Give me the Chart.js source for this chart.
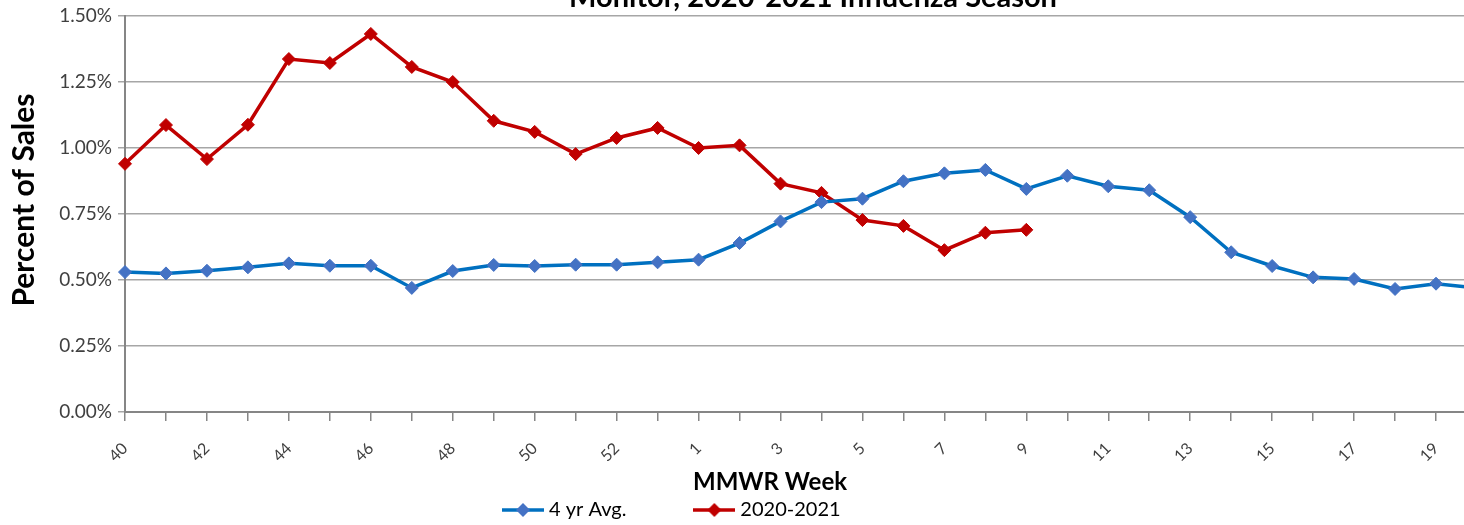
<!DOCTYPE html>
<html>
<head>
<meta charset="utf-8">
<script src="https://cdn.jsdelivr.net/npm/chart.js@4"></script>
<style>
  body { margin: 0; overflow: hidden; background: #fff; }
  #wrap { position: absolute; left: 0; top: -20px; width: 1500px; height: 545px; }
</style>
</head>
<body>
<div id="wrap"><canvas id="myChart"></canvas></div>
<script>
const weeks = ['40','41','42','43','44','45','46','47','48','49','50','51','52','53',
  '1','2','3','4','5','6','7','8','9','10','11','12','13','14','15','16','17','18','19','20'];

const avgValues = [0.53, 0.525, 0.535, 0.548, 0.563, 0.554, 0.554, 0.47, 0.534, 0.557,
  0.553, 0.558, 0.558, 0.567, 0.577, 0.64, 0.722, 0.795, 0.808, 0.874, 0.904, 0.917,
  0.845, 0.895, 0.855, 0.84, 0.738, 0.605, 0.553, 0.51, 0.504, 0.466, 0.486, 0.47];

const seasonValues = [0.94, 1.087, 0.958, 1.088, 1.337, 1.322, 1.432, 1.307, 1.25, 1.103,
  1.061, 0.977, 1.038, 1.076, 1.0, 1.01, 0.865, 0.83, 0.727, 0.705, 0.613, 0.679, 0.69];

const yTicks = [0, 0.25, 0.5, 0.75, 1.0, 1.25, 1.5];

Chart.defaults.font.family = 'Lato';

// little line + diamond picture for the legend
function legendMark(lineColor, dotColor) {
  let c = document.createElement('canvas');
  c.width = 42;
  c.height = 16;
  let g = c.getContext('2d');
  g.strokeStyle = lineColor;
  g.lineWidth = 3.5;
  g.beginPath();
  g.moveTo(0, 8);
  g.lineTo(42, 8);
  g.stroke();
  g.fillStyle = dotColor;
  g.beginPath();
  g.moveTo(14, 8);
  g.lineTo(21, 1);
  g.lineTo(28, 8);
  g.lineTo(21, 15);
  g.closePath();
  g.fill();
  return c;
}

const marks = [legendMark('#0070C0', '#4472C4'), legendMark('#C00000', '#C00000')];

const legendGap = 72;

// the picture is a crop, so titles / legend sit off the canvas centre
function shiftTitle(scale, dx, dy) {
  if (scale._shifted) return;
  const orig = scale.drawTitle;
  scale.drawTitle = function () {
    this.left += dx; this.right += dx; this.top += dy; this.bottom += dy;
    orig.call(this);
    this.left -= dx; this.right -= dx; this.top -= dy; this.bottom -= dy;
  };
  scale._shifted = true;
}

const shiftBoxes = {
  id: 'shiftBoxes',
  afterLayout(chart) {
    let t = chart.titleBlock;
    let dt = 813 - (t.left + t.right) / 2;
    t.left += dt;
    t.right += dt;

    let lg = chart.legend;
    let cur = (lg.left + legendGap + lg.right - lg.lineWidths[0]) / 2;
    let dx = 507 - cur;
    lg.left += dx;
    lg.right += dx;
    lg.top = 530 - legendGap - 10;

    shiftTitle(chart.scales.x, -31, 0);
    shiftTitle(chart.scales.y, 0, -14);
  }
};

const ctx = document.getElementById('myChart');

const myChart = new Chart(ctx, {
  type: 'line',
  data: {
    labels: weeks,
    datasets: [{
      label: '4 yr Avg.',
      data: avgValues,
      borderColor: '#0070C0',
      backgroundColor: '#4472C4',
      pointBackgroundColor: '#4472C4',
      pointBorderColor: '#4472C4',
      borderWidth: 3.5,
      pointStyle: 'rectRot',
      pointRadius: 6.5,
      pointBorderWidth: 1,
      tension: 0
    }, {
      label: '2020-2021',
      data: seasonValues,
      borderColor: '#C00000',
      backgroundColor: '#C00000',
      pointBackgroundColor: '#C00000',
      pointBorderColor: '#C00000',
      borderWidth: 3.5,
      pointStyle: 'rectRot',
      pointRadius: 6.5,
      pointBorderWidth: 1,
      tension: 0
    }]
  },
  plugins: [shiftBoxes],
  options: {
    responsive: true,
    maintainAspectRatio: false,
    animation: false,
    layout: { padding: { left: 0, right: 23, top: 0, bottom: 0 } },
    plugins: {
      title: {
        display: true,
        text: 'Monitor, 2020-2021 Influenza Season',
        color: '#000',
        font: { size: 29, weight: 'bold' },
        padding: { top: 0.6, bottom: 0.6 }
      },
      legend: {
        position: 'bottom',
        maxHeight: 28,
        labels: {
          color: '#000',
          font: { size: 20 },
          usePointStyle: true,
          pointStyleWidth: 32,
          padding: legendGap,
          generateLabels(chart) {
            return chart.data.datasets.map((ds, i) => ({
              text: ds.label,
              pointStyle: marks[i],
              fillStyle: ds.borderColor,
              strokeStyle: ds.borderColor,
              lineWidth: 0,
              fontColor: '#000',
              datasetIndex: i
            }));
          }
        }
      },
      tooltip: { enabled: false }
    },
    scales: {
      x: {
        offset: false,
        afterFit(scale) {
          scale.height = 85;
          scale.paddingLeft = 0;
          scale.paddingRight = 0;
        },
        grid: { display: true, drawOnChartArea: false, drawTicks: true, tickLength: 9, color: '#868686', lineWidth: 1.5 },
        border: { color: '#868686', width: 2 },
        ticks: {
          autoSkip: false,
          minRotation: 45,
          maxRotation: 45,
          padding: 18,
          color: '#404040',
          font: { size: 16 },
          callback(value, index) {
            return index % 2 === 0 ? weeks[index] : '';
          }
        },
        title: {
          display: true,
          text: 'MMWR Week',
          color: '#000',
          font: { size: 24, weight: 'bold' },
          padding: { top: 0, bottom: 0 }
        }
      },
      y: {
        min: 0,
        max: 1.5,
        afterFit(scale) { scale.width = 125; },
        afterBuildTicks(scale) { scale.ticks = yTicks.map(v => ({ value: v })); },
        grid: { color: '#a6a6a6', lineWidth: 1.5, tickLength: 7 },
        border: { color: '#868686', width: 2 },
        ticks: {
          padding: 6,
          color: '#404040',
          font: { size: 19 },
          callback(value) { return value.toFixed(2) + '%'; }
        },
        title: {
          display: true,
          text: 'Percent of Sales',
          color: '#000',
          font: { size: 30, weight: 'bold' },
          padding: { top: 6, bottom: 0 }
        }
      }
    }
  }
});
</script>
</body>
</html>
